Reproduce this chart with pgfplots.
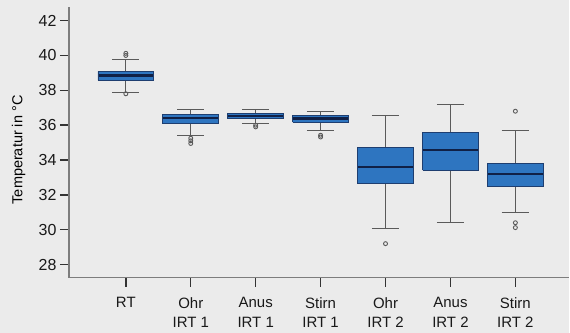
\documentclass[border=0pt]{standalone}
\usepackage{pgfplots}
\pgfplotsset{compat=1.18}
\usepackage{fontspec}
\setmainfont{Liberation Sans}
\definecolor{bgc}{RGB}{235,235,235}
\definecolor{boxfill}{RGB}{46,117,192}
\definecolor{boxedge}{RGB}{30,62,112}
\definecolor{medc}{RGB}{16,32,70}
\definecolor{whisk}{RGB}{90,90,90}
\definecolor{axline}{RGB}{125,125,125}
\begin{document}
\begin{tikzpicture}
\fill[bgc] (0pt,0pt) rectangle (570pt,333pt);
\begin{axis}[
  at={(69pt,55pt)}, anchor=south west,
  scale only axis, width=501pt, height=271pt,
  xmin=0.123, xmax=7.83, ymin=27.25, ymax=42.78,
  axis x line*=bottom, axis y line*=left,
  axis line style={draw=axline, line width=1.5pt, -},
  tick align=outside, major tick length=9pt,
  tick style={draw=black!80, line width=1.4pt},
  ytick={28,30,...,42},
  xtick={1,...,7},
  xticklabels={RT,{Ohr\\IRT 1},{Anus\\IRT 1},{Stirn\\IRT 1},{Ohr\\IRT 2},{Anus\\IRT 2},{Stirn\\IRT 2}},
  /pgf/number format/assume math mode=true,
  tick label style={font=\fontsize{15}{20}\selectfont, text=black!90},
  yticklabel style={font=\fontsize{16}{20}\selectfont},
  xticklabel style={align=center, yshift=-7pt},
  ylabel={Temperatur in °C},
  ylabel style={at={(axis description cs:-0.080,0.472)}, anchor=south, font=\fontsize{14.5}{17}\selectfont},
  whst/.style={draw=whisk, line width=1.3pt, mark=none},
  boxst/.style={draw=boxedge, fill=boxfill, line width=0.8pt, mark=none},
  medst/.style={draw=medc, line width=2.4pt, mark=none},
]
% whiskers (stems)
\addplot[whst] coordinates {(1,37.89) (1,39.78)};
\addplot[whst] coordinates {(2,35.41) (2,36.9)};
\addplot[whst] coordinates {(3,36.08) (3,36.9)};
\addplot[whst] coordinates {(4,35.68) (4,36.79)};
\addplot[whst] coordinates {(5,30.08) (5,36.57)};
\addplot[whst] coordinates {(6,30.41) (6,37.19)};
\addplot[whst] coordinates {(7,31.0) (7,35.7)};
% whisker caps
\addplot[whst] coordinates {(0.79,37.89) (1.21,37.89)};
\addplot[whst] coordinates {(0.79,39.78) (1.21,39.78)};
\addplot[whst] coordinates {(1.79,35.41) (2.21,35.41)};
\addplot[whst] coordinates {(1.79,36.9) (2.21,36.9)};
\addplot[whst] coordinates {(2.79,36.08) (3.21,36.08)};
\addplot[whst] coordinates {(2.79,36.9) (3.21,36.9)};
\addplot[whst] coordinates {(3.79,35.68) (4.21,35.68)};
\addplot[whst] coordinates {(3.79,36.79) (4.21,36.79)};
\addplot[whst] coordinates {(4.79,30.08) (5.21,30.08)};
\addplot[whst] coordinates {(4.79,36.57) (5.21,36.57)};
\addplot[whst] coordinates {(5.79,30.41) (6.21,30.41)};
\addplot[whst] coordinates {(5.79,37.19) (6.21,37.19)};
\addplot[whst] coordinates {(6.79,31.0) (7.21,31.0)};
\addplot[whst] coordinates {(6.79,35.7) (7.21,35.7)};
% boxes (lower quartile to upper quartile)
\addplot[boxst] coordinates {(0.57,38.58) (1.43,38.58) (1.43,39.09) (0.57,39.09) (0.57,38.58)};
\addplot[boxst] coordinates {(1.57,36.08) (2.43,36.08) (2.43,36.61) (1.57,36.61) (1.57,36.08)};
\addplot[boxst] coordinates {(2.57,36.38) (3.43,36.38) (3.43,36.65) (2.57,36.65) (2.57,36.38)};
\addplot[boxst] coordinates {(3.57,36.17) (4.43,36.17) (4.43,36.56) (3.57,36.56) (3.57,36.17)};
\addplot[boxst] coordinates {(4.57,32.64) (5.43,32.64) (5.43,34.74) (4.57,34.74) (4.57,32.64)};
\addplot[boxst] coordinates {(5.57,33.42) (6.43,33.42) (6.43,35.6) (5.57,35.6) (5.57,33.42)};
\addplot[boxst] coordinates {(6.57,32.5) (7.43,32.5) (7.43,33.79) (6.57,33.79) (6.57,32.5)};
% medians
\addplot[medst] coordinates {(0.58,38.85) (1.42,38.85)};
\addplot[medst] coordinates {(1.58,36.42) (2.42,36.42)};
\addplot[medst] coordinates {(2.58,36.54) (3.42,36.54)};
\addplot[medst] coordinates {(3.58,36.38) (4.42,36.38)};
\addplot[medst] coordinates {(4.58,33.6) (5.42,33.6)};
\addplot[medst] coordinates {(5.58,34.59) (6.42,34.59)};
\addplot[medst] coordinates {(6.58,33.21) (7.42,33.21)};
% outliers
\addplot[only marks, mark=o, mark size=2.0pt, mark options={draw=whisk, line width=0.9pt}] coordinates {
 (1,37.8) (1,40.0) (1,40.12)
 (2,35.25) (2,35.1) (2,34.95)
 (3,36.0) (3,35.9)
 (4,35.42) (4,35.32)
 (5,29.2)
 (7,36.8) (7,30.4) (7,30.12)
};
\end{axis}
\end{tikzpicture}
\end{document}
